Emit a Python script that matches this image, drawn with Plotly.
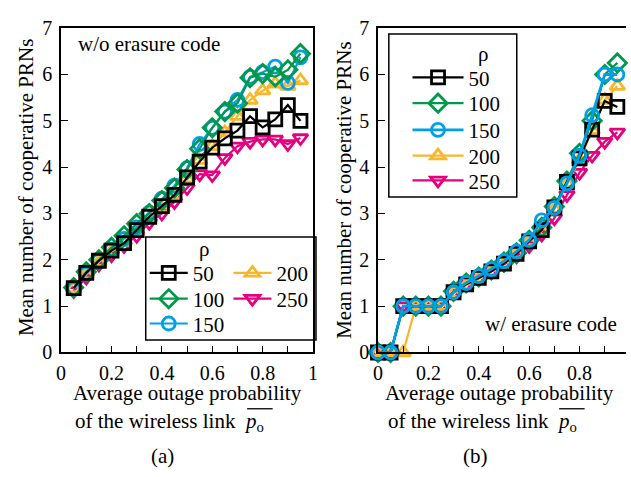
import plotly.graph_objects as go

W, H = 631, 477
FONT = "Liberation Serif, Times New Roman, serif"

# ---------------- data ----------------
rho_labels = ["50", "100", "150", "200", "250"]

x_a = [0.05, 0.10, 0.15, 0.20, 0.25, 0.30, 0.35, 0.40, 0.45, 0.50,
       0.55, 0.60, 0.65, 0.70, 0.75, 0.80, 0.85, 0.90, 0.95]
y_a_50 = [1.39, 1.72, 1.98, 2.20, 2.36, 2.64, 2.93, 3.16, 3.40, 3.78,
          4.12, 4.42, 4.62, 4.79, 5.10, 4.86, 5.03, 5.34, 5.00]
y_a_100 = [1.40, 1.74, 2.00, 2.27, 2.52, 2.78, 3.00, 3.28, 3.55, 3.95,
           4.40, 4.85, 5.20, 5.38, 5.93, 6.02, 5.95, 6.10, 6.45]
y_a_150 = [1.37, 1.70, 1.98, 2.22, 2.45, 2.70, 3.02, 3.32, 3.60, 3.98,
           4.50, 4.85, 5.20, 5.45, 5.95, 6.05, 6.17, 5.82, 6.37]
y_a_200 = [1.38, 1.68, 1.95, 2.18, 2.38, 2.62, 2.90, 3.12, 3.40, 3.75,
           4.15, 4.45, 4.75, 5.10, 5.45, 5.65, 5.80, 5.75, 5.87]
y_a_250 = [1.33, 1.62, 1.90, 2.10, 2.30, 2.52, 2.80, 3.00, 3.25, 3.55,
           3.85, 3.83, 4.20, 4.45, 4.55, 4.60, 4.60, 4.50, 4.63]

x_b = [0.00, 0.05, 0.10, 0.15, 0.20, 0.25, 0.30, 0.35, 0.40, 0.45,
       0.50, 0.55, 0.60, 0.65, 0.70, 0.75, 0.80, 0.85, 0.90, 0.95]
y_b_50 = [0, 0, 1, 1, 1, 1, 1.30, 1.47, 1.61, 1.75,
          1.92, 2.13, 2.40, 2.64, 3.13, 3.68, 4.19, 4.81, 5.43, 5.30]
y_b_100 = [0, 0, 1, 1, 1, 1, 1.32, 1.50, 1.63, 1.78,
           1.95, 2.15, 2.42, 2.70, 3.15, 3.70, 4.30, 5.00, 6.00, 6.25]
y_b_150 = [0, 0, 1, 1, 1, 1, 1.30, 1.50, 1.65, 1.80,
           1.97, 2.18, 2.43, 2.85, 3.12, 3.65, 4.25, 5.12, 6.00, 6.00]
y_b_200 = [0, 0, 0, 1, 1, 1, 1.28, 1.45, 1.60, 1.75,
           1.92, 2.13, 2.40, 2.62, 3.10, 3.65, 4.15, 4.80, 5.45, 5.75]
y_b_250 = [0, 0, 1, 1, 1, 1, 1.30, 1.47, 1.60, 1.75,
           1.90, 2.08, 2.30, 2.55, 2.90, 3.40, 3.88, 4.25, 4.55, 4.75]

x_tickvals = [0, 0.2, 0.4, 0.6, 0.8, 1.0]
x_ticktext = ["0", "0.2", "0.4", "0.6", "0.8", "1"]
y_tickvals = [0, 1, 2, 3, 4, 5, 6, 7]

colors = {"50": "#000000", "100": "#00984A", "150": "#00A0E9",
          "200": "#F8B62D", "250": "#E4007F"}
symbols = {"50": "square-open", "100": "diamond-open", "150": "circle-open",
           "200": "triangle-up-open", "250": "triangle-down-open"}
msize = {"50": 13, "100": 14, "150": 13, "200": 13, "250": 13}

series_a = {"50": y_a_50, "100": y_a_100, "150": y_a_150, "200": y_a_200, "250": y_a_250}
series_b = {"50": y_b_50, "100": y_b_100, "150": y_b_150, "200": y_b_200, "250": y_b_250}

# legend slot positions in pixels: (x of legend box, y centre of item, itemwidth)
leg_a = {"50": (142, 275, 38), "100": (142, 302, 38), "150": (142, 328, 38),
         "200": (227, 275, 38), "250": (227, 302, 38)}
leg_b = {"50": (409, 70, 51), "100": (409, 97, 51), "150": (409, 125, 51),
         "200": (409, 152, 51), "250": (409, 178, 51)}


def px_x(p):
    return p / W


def px_y(p):
    return 1 - p / H


fig = go.Figure()
legend_layout = {}
lid = [0]


def new_legend(xp, yp, iw):
    lid[0] += 1
    name = "legend" if lid[0] == 1 else "legend%d" % lid[0]
    legend_layout[name] = dict(
        x=px_x(xp), y=px_y(yp), xanchor="left", yanchor="middle",
        bgcolor="rgba(0,0,0,0)", borderwidth=0, itemwidth=iw,
        font=dict(family=FONT, size=21, color="black"))
    return name


legend_ids_a = {k: new_legend(*leg_a[k]) for k in rho_labels}
legend_ids_b = {k: new_legend(*leg_b[k]) for k in rho_labels}

# left panel: black drawn last
for k in ["250", "200", "150", "100", "50"]:
    fig.add_trace(go.Scatter(
        x=x_a, y=series_a[k], mode="lines+markers", name=k,
        line=dict(color=colors[k], width=2.2),
        marker=dict(symbol=symbols[k], size=msize[k], color=colors[k],
                    line=dict(width=2.8, color=colors[k])),
        xaxis="x", yaxis="y", legend=legend_ids_a[k], cliponaxis=False,
    ))

# right panel: cyan line drawn last
for k in ["250", "200", "100", "50", "150"]:
    fig.add_trace(go.Scatter(
        x=x_b, y=series_b[k], mode="lines+markers", name=k,
        line=dict(color=colors[k], width=2.8 if k == "150" else 2.2),
        marker=dict(symbol=symbols[k], size=msize[k], color=colors[k],
                    line=dict(width=2.8, color=colors[k])),
        xaxis="x2", yaxis="y2", legend=legend_ids_b[k], cliponaxis=False,
    ))

axis_common = dict(
    showgrid=False, zeroline=False, showline=True, linecolor="black",
    linewidth=1.5, ticks="inside", ticklen=7, tickwidth=1.3, tickcolor="black",
    tickfont=dict(family=FONT, size=20, color="black"),
)
minor_ticks = dict(dtick=0.1, ticks="inside", ticklen=7, tickcolor="black", tickwidth=1.3)

ydom = [px_y(358), px_y(18)]

fig.update_layout(
    width=W, height=H,
    margin=dict(l=0, r=0, t=0, b=0),
    paper_bgcolor="white", plot_bgcolor="white",
    font=dict(family=FONT, size=20, color="black"),
    xaxis=dict(domain=[px_x(57), px_x(313)], range=[0, 1], mirror=True,
               tickvals=x_tickvals, ticktext=x_ticktext, minor=minor_ticks,
               ticklabelstandoff=2, anchor="y", **axis_common),
    yaxis=dict(domain=ydom, range=[0, 7], mirror=True, tickvals=y_tickvals,
               ticklabelstandoff=3, anchor="x", **axis_common),
    xaxis2=dict(domain=[px_x(379), 1.0], range=[0, (631 - 379) / 256.0], mirror=True,
                tickvals=x_tickvals, ticktext=x_ticktext, minor=minor_ticks,
                ticklabelstandoff=2, anchor="y2", **axis_common),
    yaxis2=dict(domain=ydom, range=[0, 7], mirror=False, tickvals=y_tickvals,
                ticklabelstandoff=3, anchor="x2", **axis_common),
    showlegend=True,
    **legend_layout,
)

shapes = [
    # left legend box
    dict(type="rect", xref="paper", yref="paper", x0=px_x(143), x1=px_x(316),
         y0=px_y(345), y1=px_y(237), line=dict(color="black", width=1.5)),
    # right legend box
    dict(type="rect", xref="paper", yref="paper", x0=px_x(390), x1=px_x(520),
         y0=px_y(195), y1=px_y(24), line=dict(color="black", width=1.5)),
    # overlines for p_o
    dict(type="line", xref="paper", yref="paper", x0=px_x(246), x1=px_x(272),
         y0=px_y(417), y1=px_y(417), line=dict(color="black", width=1.3)),
    dict(type="line", xref="paper", yref="paper", x0=px_x(563), x1=px_x(589),
         y0=px_y(417), y1=px_y(417), line=dict(color="black", width=1.3)),
]
fig.update_layout(shapes=shapes)


def ann(text, x, y, size=21, xanchor="center", yanchor="middle", angle=0):
    return dict(text=text, x=px_x(x), y=px_y(y), xref="paper", yref="paper",
                showarrow=False, xanchor=xanchor, yanchor=yanchor, textangle=angle,
                font=dict(family=FONT, size=size, color="black"))


annotations = [
    ann("ρ", 202, 250),
    ann("ρ", 486, 45),
    ann("w/o erasure code", 72, 35, xanchor="left"),
    ann("w/ erasure code", 624, 328, xanchor="right"),
    ann("Mean number of cooperative PRNs", 22, 185, angle=-90),
    ann("Mean number of cooperative PRNs", 345, 188, angle=-90),
    ann("Average outage probability", 185, 400),
    ann("Average outage probability", 502, 400),
    ann("of the wireless link  <i>p</i><sub>o</sub>", 69, 431, xanchor="left"),
    ann("of the wireless link  <i>p</i><sub>o</sub>", 387, 431, xanchor="left"),
    ann("(a)", 160, 466),
    ann("(b)", 478, 466),
]
fig.update_layout(annotations=annotations)

fig.write_html("out.html")
